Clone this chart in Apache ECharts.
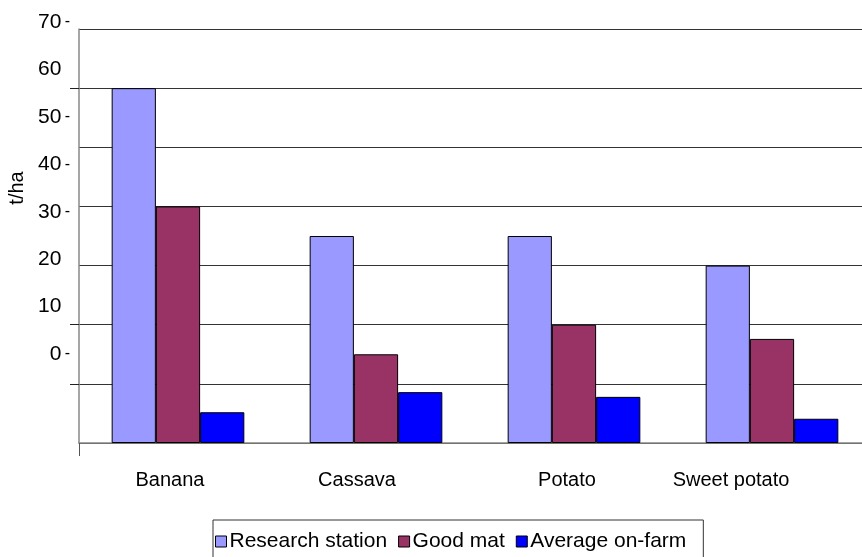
<!DOCTYPE html>
<html>
<head>
<meta charset="utf-8">
<script src="https://cdn.jsdelivr.net/npm/echarts@6/dist/echarts.min.js"></script>
<style>
  html, body { margin: 0; padding: 0; background: #fff; }
  #chart { width: 862px; height: 557px; }
</style>
</head>
<body>
<div id="chart"></div>
<script>
// Yield per crop (t/ha)
const categories = ['Banana', 'Cassava', 'Potato', 'Sweet potato'];
const researchStation = [60, 35, 35, 30];
const goodMat = [40, 15, 20, 17.6];
const averageOnFarm = [5.2, 8.6, 7.8, 4.1];

// Value-axis tick labels; some carry a trailing dash mark
const tickValues = [0, 10, 20, 30, 40, 50, 60, 70];
const tickDash = [true, false, false, true, true, true, false, true];

const FONT = '"Liberation Sans", Arial, sans-serif';

// horizontal nudge of each category label (right padding, px)
const labelShift = [16, 38, 14, 82];

const chart = echarts.init(document.getElementById('chart'), null, { renderer: 'canvas' });

const barStyle = (color) => ({ color: color, borderColor: '#000', borderWidth: 1 });

const catRich = {};
labelShift.forEach((p, i) => {
  catRich['c' + i] = { color: '#000', fontFamily: FONT, fontSize: 20, padding: [0, p, 0, 0] };
});

chart.setOption({
  animation: false,
  backgroundColor: '#fff',
  textStyle: { fontFamily: FONT },
  grid: [
    // plot area (runs slightly past the right edge)
    { left: 79, right: -9, top: 29, bottom: 114, containLabel: false, outerBoundsMode: 'none' },
    // label scale on the left
    { left: 79, right: -9, top: 22, bottom: 203, containLabel: false, outerBoundsMode: 'none' }
  ],
  legend: {
    data: ['Research station', 'Good mat', 'Average on-farm'],
    left: 213,
    top: 520,
    padding: [11, 17, 24, 2],
    itemGap: 11,
    itemWidth: 11,
    itemHeight: 11,
    icon: 'rect',
    borderColor: '#333',
    borderWidth: 1,
    itemStyle: { borderColor: '#000', borderWidth: 1 },
    textStyle: { fontFamily: FONT, fontSize: 21, color: '#000', padding: [0, 0, 0, -2] }
  },
  xAxis: [
    {
      type: 'category',
      gridIndex: 0,
      data: categories,
      axisLine: { show: true, lineStyle: { color: '#888', width: 1.5 } },
      axisTick: {
        show: true,
        interval: (i) => i === 0,
        length: 13,
        lineStyle: { color: '#555', width: 1 }
      },
      axisLabel: {
        margin: 27,
        formatter: (v) => '{c' + categories.indexOf(v) + '|' + v + '}',
        rich: catRich
      }
    },
    { type: 'value', gridIndex: 1, show: false }
  ],
  yAxis: [
    {
      // axis line and the few outward ticks
      type: 'value',
      gridIndex: 0,
      min: 0,
      max: 70,
      interval: 10,
      axisLine: { show: true, lineStyle: { color: '#888', width: 1.5 } },
      axisTick: {
        show: true,
        customValues: [10, 20, 60],
        length: 9,
        lineStyle: { color: '#222', width: 1 }
      },
      axisLabel: { show: false },
      splitLine: { show: false }
    },
    {
      // horizontal gridlines
      type: 'value',
      gridIndex: 0,
      position: 'left',
      min: 0,
      max: 70,
      interval: 10,
      axisLine: { show: false },
      axisTick: { show: false },
      axisLabel: { show: false },
      splitLine: { show: true, lineStyle: { color: '#333', width: 1 } }
    },
    {
      type: 'value',
      gridIndex: 1,
      min: 0,
      max: 70,
      interval: 10,
      name: 't/ha',
      nameLocation: 'middle',
      nameGap: 52,
      nameTextStyle: { color: '#000', fontFamily: FONT, fontSize: 20 },
      axisLine: { show: false },
      axisTick: { show: false },
      splitLine: { show: false },
      axisLabel: {
        margin: 9,
        formatter: (v) => {
          const i = tickValues.indexOf(v);
          return '{n|' + v + '} {' + (tickDash[i] ? 'd' : 'h') + '|-}';
        },
        rich: {
          n: { color: '#000', fontFamily: FONT, fontSize: 21 },
          d: { color: '#000', fontFamily: FONT, fontSize: 16 },
          h: { color: 'rgba(0,0,0,0)', fontFamily: FONT, fontSize: 16 }
        }
      }
    }
  ],
  series: [
    {
      name: 'Research station',
      type: 'bar',
      xAxisIndex: 0,
      yAxisIndex: 0,
      data: researchStation,
      barGap: '0%',
      barCategoryGap: '33%',
      itemStyle: barStyle('#9999FF')
    },
    {
      name: 'Good mat',
      type: 'bar',
      xAxisIndex: 0,
      yAxisIndex: 0,
      data: goodMat,
      barGap: '0%',
      barCategoryGap: '33%',
      itemStyle: barStyle('#993366')
    },
    {
      name: 'Average on-farm',
      type: 'bar',
      xAxisIndex: 0,
      yAxisIndex: 0,
      data: averageOnFarm,
      barGap: '0%',
      barCategoryGap: '33%',
      itemStyle: barStyle('#0000FF')
    }
  ]
});
</script>
</body>
</html>
